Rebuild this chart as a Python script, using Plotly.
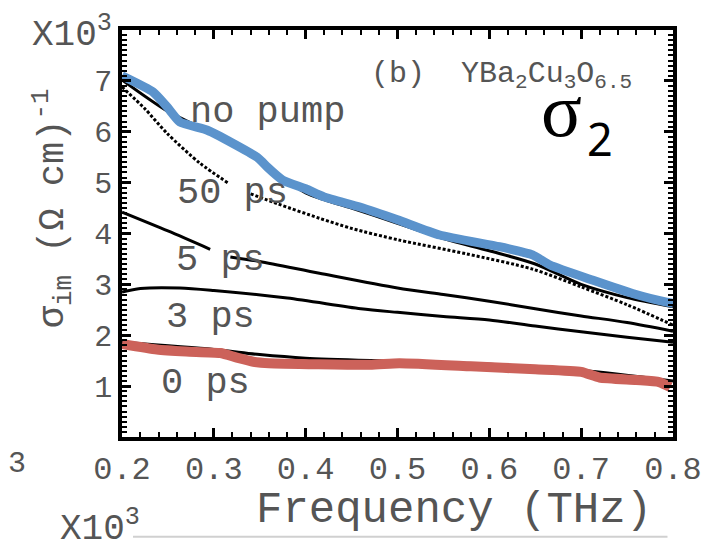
import plotly.graph_objects as go

# ---- data (x in THz, y in 10^3 (Ohm cm)^-1) ----
blue_x = [0.200, 0.234, 0.249, 0.263, 0.293, 0.321, 0.347, 0.352, 0.358, 0.375, 0.400, 0.420,
          0.459, 0.500, 0.546, 0.611, 0.647, 0.666, 0.713, 0.756, 0.793, 0.800]
blue_y = [7.10, 6.78, 6.49, 6.19, 6.03, 5.77, 5.50, 5.42, 5.31, 5.05, 4.88, 4.72,
          4.52, 4.27, 3.97, 3.74, 3.58, 3.38, 3.08, 2.82, 2.65, 2.63]

nopump_x = [0.20, 0.25, 0.30, 0.35, 0.40, 0.45, 0.50, 0.55, 0.60, 0.65, 0.70, 0.75, 0.80]
nopump_y = [7.02, 6.40, 5.95, 5.42, 4.80, 4.50, 4.20, 3.90, 3.66, 3.40, 3.00, 2.74, 2.56]

p50_x = [0.200, 0.225, 0.249, 0.285, 0.315, None, 0.340, 0.370, 0.415, 0.450, 0.502, 0.575,
         0.647, 0.700, 0.750, 0.800]
p50_y = [6.88, 6.45, 5.97, 5.38, 5.00, None, 4.78, 4.58, 4.30, 4.10, 3.87, 3.60,
         3.30, 2.95, 2.60, 2.20]

p5_x = [0.200, 0.250, 0.296, None, 0.318, 0.350, 0.415, 0.500, 0.550, 0.600, 0.650, 0.700, 0.750, 0.800]
p5_y = [4.42, 4.05, 3.69, None, 3.54, 3.45, 3.22, 2.93, 2.80, 2.67, 2.52, 2.38, 2.25, 2.08]

p3_x = [0.200, 0.220, 0.263, 0.300, 0.380, 0.460, 0.500, 0.550, 0.600, 0.650, 0.700, 0.750, 0.800]
p3_y = [2.85, 2.92, 2.93, 2.88, 2.73, 2.52, 2.45, 2.37, 2.30, 2.18, 2.07, 1.96, 1.86]

p0_x = [0.20, 0.30, 0.35, 0.40, 0.50, 0.60, 0.70, 0.80]
p0_y = [1.86, 1.72, 1.62, 1.55, 1.49, 1.43, 1.31, 1.10]

red_x = [0.200, 0.238, 0.270, 0.307, 0.325, 0.343, 0.360, 0.470, 0.502, 0.580, 0.650,
         0.700, 0.720, 0.760, 0.785, 0.797]
red_y = [1.83, 1.72, 1.68, 1.65, 1.56, 1.48, 1.45, 1.42, 1.45, 1.39, 1.33,
         1.28, 1.17, 1.12, 1.08, 0.98]

x_ticks = [0.2, 0.3, 0.4, 0.5, 0.6, 0.7, 0.8]
x_ticktext = ["0.2", "0.3", "0.4", "0.5", "0.6", "0.7", "0.8"]
y_ticks = [1, 2, 3, 4, 5, 6, 7]
y_ticktext = ["1", "2", "3", "4", "5", "6", "7"]

curve_labels = ["no pump", "50 ps", "5 ps", "3 ps", "0 ps"]
label_x = [0.358, 0.320, 0.307, 0.296, 0.291]
label_y = [6.39, 4.79, 3.48, 2.36, 1.06]

MONO = "Liberation Mono, Courier New, monospace"
GREY = "#555555"

fig = go.Figure()
blk = dict(color="black", width=3, shape="spline", smoothing=0.8)
fig.add_trace(go.Scatter(x=nopump_x, y=nopump_y, mode="lines", line=blk, showlegend=False))
fig.add_trace(go.Scatter(x=p50_x, y=p50_y, mode="lines",
                         line=dict(color="black", width=3, dash="3px,2px", shape="spline", smoothing=0.8),
                         connectgaps=False, showlegend=False))
fig.add_trace(go.Scatter(x=p5_x, y=p5_y, mode="lines", line=blk, connectgaps=False, showlegend=False))
fig.add_trace(go.Scatter(x=p3_x, y=p3_y, mode="lines", line=blk, showlegend=False))
fig.add_trace(go.Scatter(x=p0_x, y=p0_y, mode="lines", line=blk, showlegend=False))
fig.add_trace(go.Scatter(x=blue_x, y=blue_y, mode="lines",
                         line=dict(color="#5b93cc", width=9, shape="spline", smoothing=0.5),
                         showlegend=False))
fig.add_trace(go.Scatter(x=red_x, y=red_y, mode="lines",
                         line=dict(color="#cc625a", width=10, shape="spline", smoothing=0.5),
                         showlegend=False))

for t, lx, ly in zip(curve_labels, label_x, label_y):
    fig.add_annotation(x=lx, y=ly, text=t, showarrow=False, xref="x", yref="y",
                       xanchor="center", yanchor="middle",
                       font=dict(family=MONO, size=37, color=GREY))

fig.add_annotation(x=0.6135, y=7.11, xref="x", yref="y", showarrow=False,
                   xanchor="center", yanchor="middle",
                   text="(b)  YBa<sub>2</sub>Cu<sub>3</sub>O<sub>6.5</sub>",
                   font=dict(family=MONO, size=30, color=GREY))
fig.add_annotation(x=0.679, y=6.42, xref="x", yref="y", showarrow=False, text="σ",
                   xanchor="center", yanchor="middle",
                   font=dict(family="Liberation Serif", size=76, color="black"))
fig.add_annotation(x=0.720, y=5.87, xref="x", yref="y", showarrow=False, text="2",
                   xanchor="center", yanchor="middle",
                   font=dict(family="Noto Sans", size=45, color="black"))

# axis titles and stray labels
fig.add_annotation(x=0.603, y=-0.179, xref="paper", yref="paper", showarrow=False,
                   xanchor="center", yanchor="middle",
                   text="Frequency (THz)", font=dict(family=MONO, size=44, color=GREY))
fig.add_annotation(x=-0.127, y=0.562, xref="paper", yref="paper", showarrow=False,
                   xanchor="center", yanchor="middle",
                   textangle=-90, text="σ<sub>im</sub> (Ω cm)<sup>-1</sup>",
                   font=dict(family=MONO, size=37, color=GREY))
fig.add_annotation(x=-0.167, y=0.995, xref="paper", yref="paper", showarrow=False,
                   xanchor="left", yanchor="middle", text="X10<sup>3</sup>",
                   font=dict(family=MONO, size=36, color=GREY))
fig.add_annotation(x=-0.116, y=-0.221, xref="paper", yref="paper", showarrow=False,
                   xanchor="left", yanchor="middle", text="X10<sup>3</sup>",
                   font=dict(family=MONO, size=36, color=GREY))
fig.add_annotation(x=-0.171, y=-0.066, xref="paper", yref="paper", showarrow=False,
                   xanchor="right", yanchor="middle", text="3",
                   font=dict(family=MONO, size=30, color=GREY))
fig.add_shape(type="line", xref="paper", yref="paper", x0=0.02, x1=0.99, y0=-0.245, y1=-0.245,
              line=dict(color="#d0d0d0", width=2))

axis_common = dict(showline=True, linecolor="black", linewidth=3.5, mirror="allticks",
                   ticks="inside", ticklen=9, tickwidth=3, tickcolor="black",
                   showgrid=False, zeroline=False)
fig.update_xaxes(range=[0.2, 0.8], tickvals=x_ticks, ticktext=x_ticktext,
                 tickfont=dict(family=MONO, size=32, color=GREY),
                 minor=dict(dtick=0.02, ticks="inside", ticklen=5, tickwidth=1.5, tickcolor="black"),
                 **axis_common)
fig.update_yaxes(range=[0, 8], tickvals=y_ticks, ticktext=y_ticktext,
                 tickfont=dict(family=MONO, size=30, color=GREY),
                 minor=dict(dtick=0.1, ticks="inside", ticklen=5, tickwidth=1.5, tickcolor="black"),
                 **axis_common)
fig.update_layout(width=720, height=541, margin=dict(l=122, r=47, t=30, b=104),
                  plot_bgcolor="white", paper_bgcolor="white")

fig.write_html("out.html")
